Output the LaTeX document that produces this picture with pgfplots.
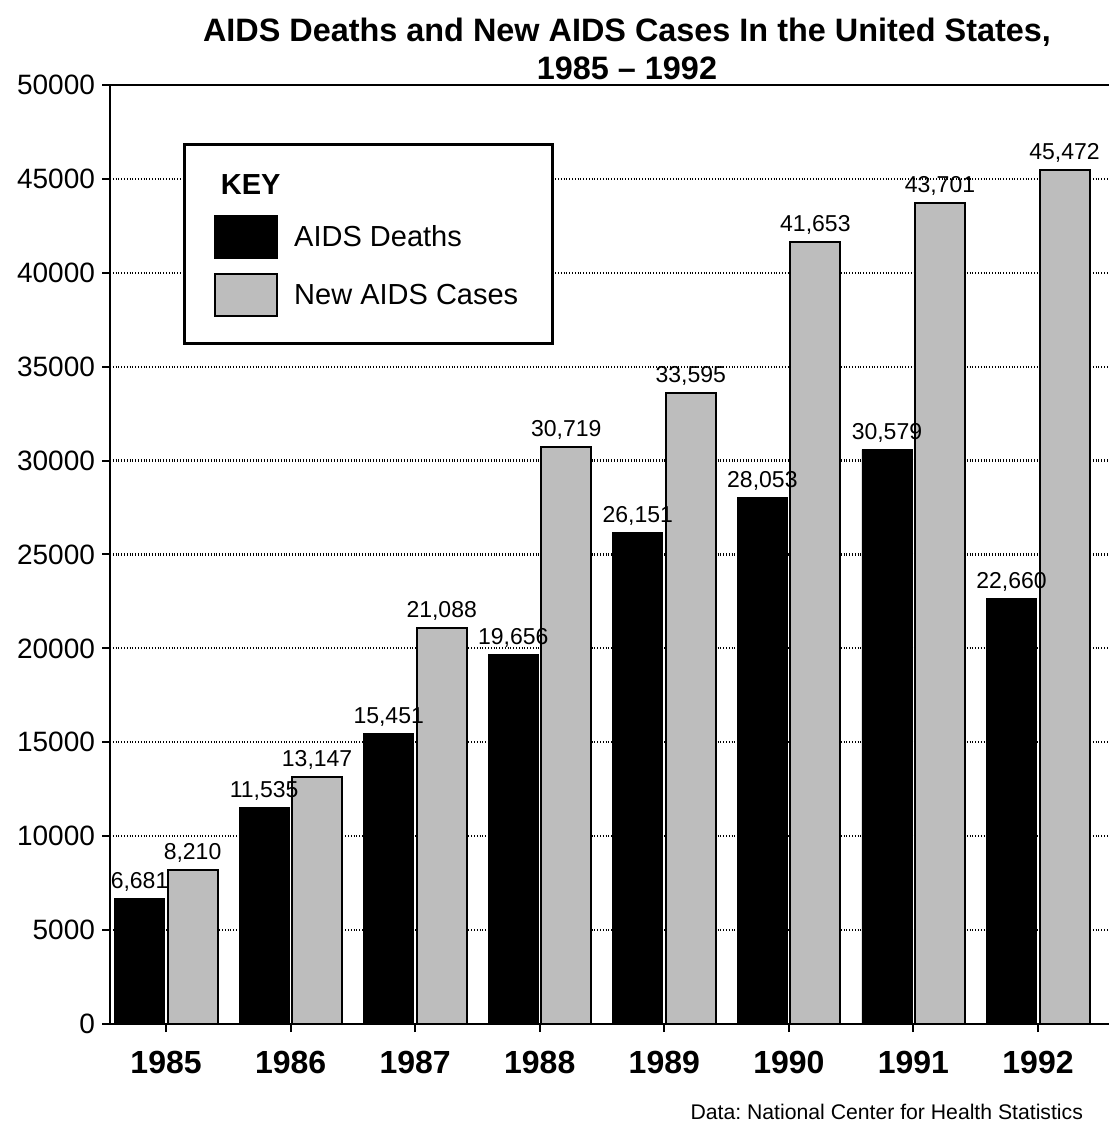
\documentclass[border=0pt]{standalone}
\usepackage{fontspec}
\setmainfont{Liberation Sans}
\usepackage{pgfplots}
\pgfplotsset{compat=1.18}

\begin{document}
\begin{tikzpicture}
\useasboundingbox (-55pt,-52.5pt) rectangle (499.5pt,512pt);
\begin{axis}[
  at={(0pt,0pt)}, anchor=south west,
  scale only axis, width=499.5pt, height=469.5pt,
  ybar=1.5pt, bar width=25pt,
  xmin=1984.55, xmax=1992.57, ymin=0, ymax=50000,
  xtick={1985,1986,...,1992}, ytick={0,5000,...,50000},
  scaled y ticks=false,
  axis x line*=bottom, axis y line*=left,
  axis line style={-, line width=1.3pt},
  /pgf/number format/assume math mode=true,
  x tick label style={font=\fontsize{16}{19}\selectfont\bfseries, /pgf/number format/1000 sep={}, yshift=-6pt},
  y tick label style={font=\fontsize{14}{16}\selectfont, /pgf/number format/1000 sep={}},
  tick align=outside, major tick length=4pt, tick style={line width=1pt, black},
  ymajorgrids, grid style={densely dotted, line width=1.1pt, black},
  nodes near coords,
  every node near coord/.append style={font=\fontsize{11.5}{13}\selectfont, /pgf/number format/1000 sep={,}, text=black},
  legend style={at={(0.073,0.938)}, anchor=north west, draw=black, line width=1.3pt,
    inner xsep=15pt, inner ysep=13pt, font=\fontsize{14.5}{17}\selectfont,
    cells={anchor=west}, row sep=7pt,
    /tikz/every odd column/.append style={column sep=6pt}},
  legend image code/.code={\draw[#1, line width=1pt] (0pt,-10.5pt) rectangle (31pt,10.5pt);},
  extra description/.code={\draw[line width=1.3pt] (0,1) -- (1,1);},
]
\addlegendimage{empty legend}
\addlegendentry{\hspace*{-40.5pt}\textbf{KEY}}
\addplot[fill=black, draw=black] coordinates {
  (1985,6681) (1986,11535) (1987,15451) (1988,19656)
  (1989,26151) (1990,28053) (1991,30579) (1992,22660)};
\addlegendentry{AIDS Deaths}
\addplot[fill=black!26, draw=black, line width=1pt] coordinates {
  (1985,8210) (1986,13147) (1987,21088) (1988,30719)
  (1989,33595) (1990,41653) (1991,43701) (1992,45472)};
\addlegendentry{New AIDS Cases}
\end{axis}
\node[align=center, font=\fontsize{16.2}{19}\selectfont\bfseries] at (258.5pt,487.5pt)
  {AIDS Deaths and New AIDS Cases In the United States,\\1985 -- 1992};
\node[anchor=east, font=\fontsize{10.6}{12}\selectfont] at (490pt,-44pt)
  {Data:\ National Center for Health Statistics};
\end{tikzpicture}
\end{document}
